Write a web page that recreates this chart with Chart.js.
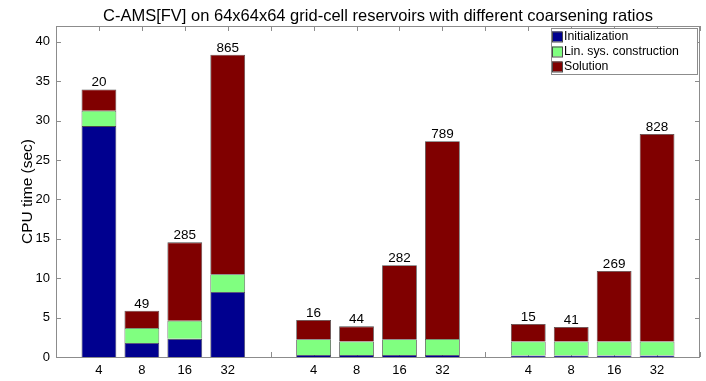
<!DOCTYPE html>
<html>
<head>
<meta charset="utf-8">
<script src="https://cdn.jsdelivr.net/npm/chart.js@4/dist/chart.umd.min.js"></script>
<style>
  html, body { margin: 0; padding: 0; background: #fff; }
  #wrap { position: relative; width: 706px; height: 381px; }
</style>
</head>
<body>
<div id="wrap"><canvas id="c"></canvas></div>
<script>
// coarsening ratio per bar, three groups of four
const ratios = ['4', '8', '16', '32'];
const groupCount = 3;

// CPU time (sec) per stage, one value per bar
const initTime = [29.3, 1.78, 2.3, 8.25,  0.25, 0.25, 0.25, 0.25,  0.2, 0.2, 0.2, 0.2];
const linTime  = [1.95, 1.9,  2.3, 2.25,  2.0,  1.73, 2.0,  2.03,  1.78, 1.78, 1.78, 1.78];
const solTime  = [2.7,  2.2,  9.95, 27.85, 2.46, 1.91, 9.39, 25.1,  2.21, 1.83, 8.94, 26.33];

// numbers printed on top of each bar
const topLabels = ['20', '49', '285', '865', '16', '44', '282', '789', '15', '41', '269', '828'];

const seriesNames = ['Initialization', 'Lin. sys. construction', 'Solution'];
const seriesColors = ['#00008F', '#80FF80', '#800000'];

const FONT = "'Liberation Sans', Arial, sans-serif";

// slots: empty, 4 bars, empty, 4 bars, empty, 4 bars, empty
function spread(values, blank) {
    const out = [blank];
    for (let g = 0; g < groupCount; g++) {
        for (let i = 0; i < ratios.length; i++) out.push(values[g * ratios.length + i]);
        out.push(blank);
    }
    return out;
}

const slotLabels = spread(ratios.concat(ratios, ratios), '');
const slotTops = spread(topLabels, null);

const datasets = [initTime, linTime, solTime].map((vals, k) => ({
    label: seriesNames[k],
    data: spread(vals, null),
    backgroundColor: seriesColors[k],
    borderColor: '#4a4a4a',
    borderWidth: 0.8,
    barPercentage: 0.81,
    categoryPercentage: 1.0
}));

const framePlugin = {
    id: 'frame',
    beforeDatasetsDraw(chart) {
        const { ctx, chartArea: a, scales } = chart;
        ctx.save();
        ctx.strokeStyle = '#8c8c8c';
        ctx.lineWidth = 1;
        ctx.beginPath();
        const tl = 5;
        scales.x.ticks.forEach((t, i) => {
            const x = Math.round(scales.x.getPixelForTick(i)) + 0.5;
            ctx.moveTo(x, a.bottom); ctx.lineTo(x, a.bottom - tl);
            ctx.moveTo(x, a.top); ctx.lineTo(x, a.top + tl);
        });
        scales.y.ticks.forEach(t => {
            const y = Math.round(scales.y.getPixelForValue(t.value)) + 0.5;
            ctx.moveTo(a.left, y); ctx.lineTo(a.left + tl, y);
            ctx.moveTo(a.right, y); ctx.lineTo(a.right - tl, y);
        });
        ctx.stroke();
        ctx.restore();
    },
    afterDatasetsDraw(chart) {
        const { ctx, chartArea: a } = chart;
        ctx.save();
        // frame
        ctx.strokeStyle = '#8c8c8c';
        ctx.lineWidth = 1;
        ctx.strokeRect(Math.round(a.left) + 0.5, Math.round(a.top) + 0.5,
                       Math.round(a.right - a.left) - 1, Math.round(a.bottom - a.top));
        // totals on top
        const meta = chart.getDatasetMeta(2);
        ctx.fillStyle = '#000';
        ctx.font = '13.5px ' + FONT;
        ctx.textAlign = 'center';
        ctx.textBaseline = 'alphabetic';
        meta.data.forEach((bar, i) => {
            if (slotTops[i] == null) return;
            ctx.fillText(slotTops[i], bar.x, bar.y - 3);
        });
        // title
        ctx.font = '16.5px ' + FONT;
        ctx.fillText('C-AMS[FV] on 64x64x64 grid-cell reservoirs with different coarsening ratios',
                     (a.left + a.right) / 2, 21);
        ctx.restore();
    },
    afterDraw(chart) {
        const { ctx } = chart;
        ctx.save();
        const bx = 551, by = 28, bw = 146, bh = 46;
        ctx.fillStyle = '#fff';
        ctx.fillRect(bx, by, bw, bh);
        ctx.strokeStyle = '#8c8c8c';
        ctx.lineWidth = 1;
        ctx.strokeRect(bx + 0.5, by + 0.5, bw, bh);
        ctx.font = '12.3px ' + FONT;
        ctx.textBaseline = 'middle';
        ctx.textAlign = 'left';
        seriesNames.forEach((name, k) => {
            const cy = 36.5 + k * 15;
            ctx.fillStyle = seriesColors[k];
            ctx.fillRect(552, cy - 5, 10, 10);
            ctx.strokeStyle = '#4a4a4a';
            ctx.strokeRect(552.5, cy - 4.5, 10, 10);
            ctx.fillStyle = '#000';
            ctx.fillText(name, 564, cy + 0.5);
        });
        ctx.restore();
    }
};

new Chart(document.getElementById('c'), {
    type: 'bar',
    data: { labels: slotLabels, datasets: datasets },
    plugins: [framePlugin],
    options: {
        responsive: true,
        maintainAspectRatio: false,
        animation: false,
        layout: { padding: { top: 26, right: 5, left: 0, bottom: 0 } },
        plugins: {
            legend: { display: false },
            tooltip: { enabled: false }
        },
        scales: {
            x: {
                stacked: true,
                offset: false,
                grid: { display: false, drawTicks: false },
                border: { display: false },
                ticks: {
                    color: '#000',
                    font: { family: FONT, size: 13 },
                    padding: 6,
                    autoSkip: false,
                    maxRotation: 0
                },
                afterFit(scale) { scale.height = 24; }
            },
            y: {
                stacked: true,
                min: 0,
                max: 42,
                grid: { display: false, drawTicks: false },
                border: { display: false },
                ticks: {
                    stepSize: 5,
                    color: '#000',
                    font: { family: FONT, size: 13 },
                    padding: 6
                },
                afterBuildTicks(scale) {
                    scale.ticks = scale.ticks.filter(t => t.value % 5 === 0);
                },
                title: {
                    display: true,
                    text: 'CPU time (sec)',
                    color: '#000',
                    font: { family: FONT, size: 15.5, lineHeight: 1.2 },
                    padding: { top: 18, bottom: 0 }
                },
                afterFit(scale) { scale.width = 56; }
            }
        }
    }
});
</script>
</body>
</html>
